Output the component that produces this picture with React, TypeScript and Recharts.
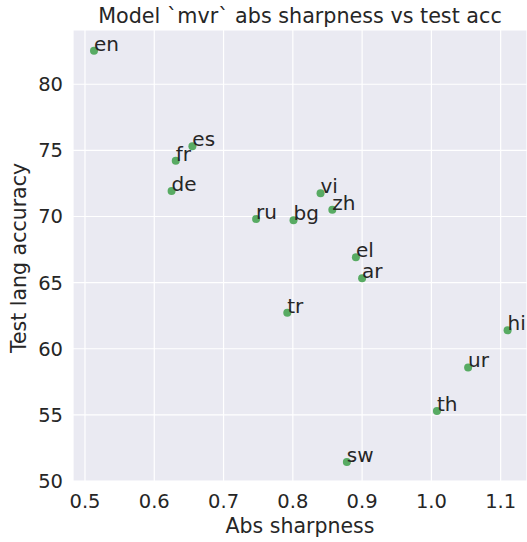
import React from "react";
import { ScatterChart, Scatter, XAxis, YAxis, CartesianGrid } from "recharts";

const languages = ["en", "es", "fr", "de", "ru", "bg", "vi", "zh", "el", "ar", "tr", "hi", "ur", "th", "sw"];
const absSharpness = [0.513, 0.655, 0.631, 0.625, 0.747, 0.801, 0.84, 0.857, 0.891, 0.9, 0.792, 1.11, 1.053, 1.008, 0.878];
const testAccuracy = [82.54, 75.31, 74.22, 71.93, 69.81, 69.71, 71.75, 70.51, 66.91, 65.33, 62.72, 61.39, 58.59, 55.29, 51.43];

const xTicks = [0.5, 0.6, 0.7, 0.8, 0.9, 1.0, 1.1];
const yTicks = [50, 55, 60, 65, 70, 75, 80];

const data = languages.map((lang, i) => ({ lang, x: absSharpness[i], y: testAccuracy[i] }));

const FONT = "'DejaVu Sans', sans-serif";
const TXT = "#262626";

const W = 527;
const H = 542;
const PLOT_LEFT = 73;
const PLOT_TOP = 30;
const PLOT_BOTTOM = 481;

const DotWithLabel = (props: any) => {
  const { cx, cy, payload } = props;
  if (cx == null || cy == null) return null;
  return (
    <g>
      <circle cx={cx} cy={cy} r={4} fill="#58AB63" />
      <text x={cx} y={cy} fontSize={20} fontFamily={FONT} fill={TXT}>
        {payload.lang}
      </text>
    </g>
  );
};

export default function App() {
  return (
    <div style={{ position: "absolute", left: 0, top: 0, width: W, height: H, background: "#fff" }}>
      <ScatterChart
        width={W}
        height={H}
        margin={{ top: PLOT_TOP, right: 0, bottom: 0, left: 0 }}
      >
        <CartesianGrid fill="#EAEAF2" stroke="#FFFFFF" strokeWidth={1.2} />
        <XAxis
          type="number"
          dataKey="x"
          domain={[0.4827, 1.138]}
          ticks={xTicks}
          allowDataOverflow
          height={H - PLOT_BOTTOM}
          tickFormatter={(v: number) => v.toFixed(1)}
          tickLine={false}
          axisLine={false}
          tickSize={0}
          tickMargin={13}
          tick={{ fontSize: 19.5, fontFamily: FONT, fill: TXT }}
          label={(p: any) => (
            <text x={300} y={533} textAnchor="middle" fontSize={20.5} fontFamily={FONT} fill={TXT}>
              Abs sharpness
            </text>
          )}
        />
        <YAxis
          type="number"
          dataKey="y"
          domain={[50, 84.1]}
          ticks={yTicks}
          allowDataOverflow
          width={PLOT_LEFT}
          tickLine={false}
          axisLine={false}
          tickSize={0}
          tickMargin={10}
          tick={{ fontSize: 19.5, fontFamily: FONT, fill: TXT }}
          label={(p: any) => (
            <text
              x={26}
              y={258}
              textAnchor="middle"
              transform="rotate(-90 26 258)"
              fontSize={20.5}
              fontFamily={FONT}
              fill={TXT}
            >
              Test lang accuracy
            </text>
          )}
        />
        <Scatter data={data} isAnimationActive={false} shape={DotWithLabel} />
      </ScatterChart>
      <svg
        width={W}
        height={PLOT_TOP}
        style={{ position: "absolute", left: 0, top: 0, pointerEvents: "none" }}
      >
        <text x={300} y={23} textAnchor="middle" fontSize={20.7} fontFamily={FONT} fill={TXT}>
          Model `mvr` abs sharpness vs test acc
        </text>
      </svg>
    </div>
  );
}
